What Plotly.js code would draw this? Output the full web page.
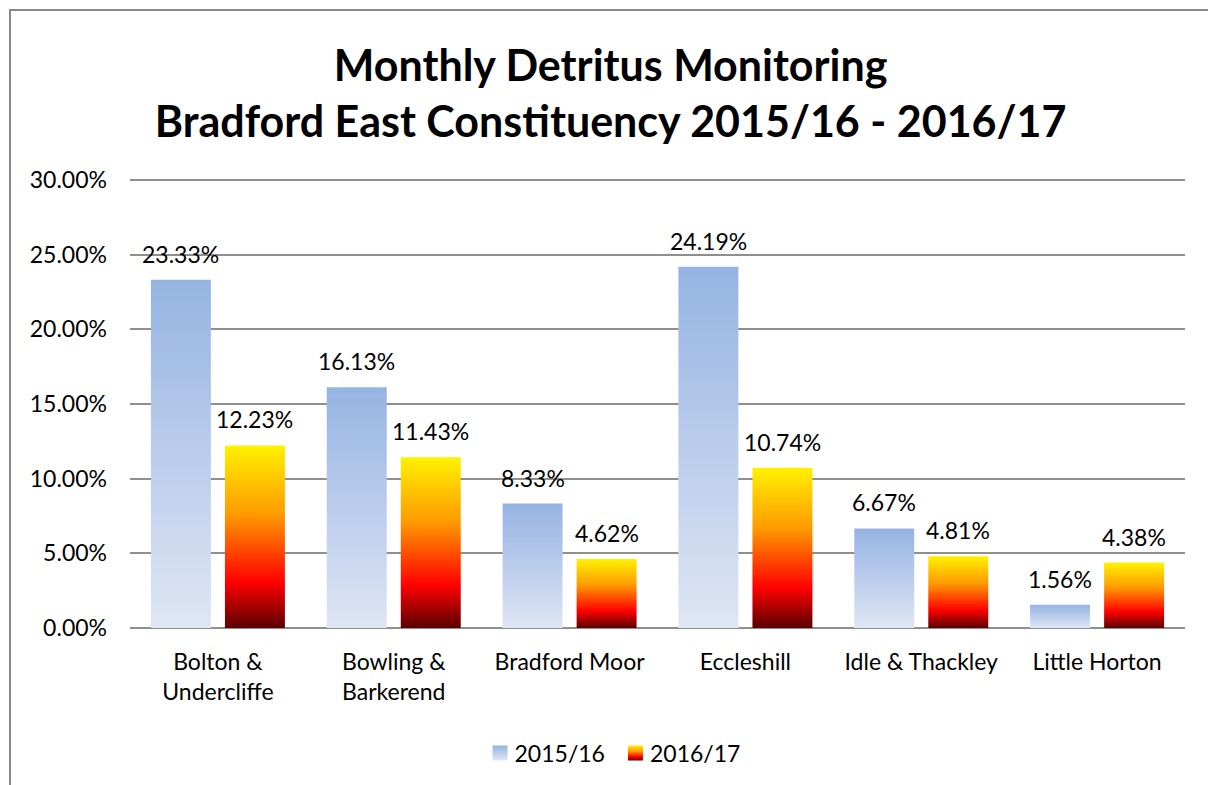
<!DOCTYPE html>
<html>
<head>
<meta charset="utf-8">
<script src="https://cdn.plot.ly/plotly-3.0.1.min.js"></script>
<style>
  html, body { margin: 0; padding: 0; background: #fff; }
  #chart { position: absolute; left: 0; top: 0; width: 1208px; height: 785px; }
  #frame { position: absolute; left: 9px; top: 9px; width: 1300px; height: 900px;
           border-left: 2px solid #8a8a8a; border-top: 2px solid #8a8a8a; pointer-events: none; }
</style>
</head>
<body>
<div id="chart"></div>
<div id="frame"></div>
<script>
const categories = ['Bolton & Undercliffe', 'Bowling & Barkerend', 'Bradford Moor', 'Eccleshill', 'Idle & Thackley', 'Little Horton'];
const tickLabels = ['Bolton &<br>Undercliffe', 'Bowling &<br>Barkerend', 'Bradford Moor', 'Eccleshill', 'Idle & Thackley', 'Little Horton'];
const series2015 = [23.33, 16.13, 8.33, 24.19, 6.67, 1.56];
const series2016 = [12.23, 11.43, 4.62, 10.74, 4.81, 4.38];
const seriesNames = ['2015/16', '2016/17'];
const yTicks = [0, 5, 10, 15, 20, 25, 30];

const FONT = 'Lato, "Open Sans", sans-serif';
const BARGAP = 0.158, GROUPGAP = 0.19;
const plotW = 1208 - 130 - 23;
const slot = (1 - BARGAP) * (plotW / categories.length) / 2;

const traces = [
  { type: 'bar', name: seriesNames[0], x: categories, y: series2015, marker: { color: '#b7c8ea' }, hoverinfo: 'skip' },
  { type: 'bar', name: seriesNames[1], x: categories, y: series2016, marker: { color: '#ff8c00' }, hoverinfo: 'skip' }
];

const annotations = [];
[series2015, series2016].forEach((vals, si) => {
  vals.forEach((v, i) => {
    annotations.push({
      x: categories[i], y: v, xref: 'x', yref: 'y',
      text: v.toFixed(2) + '%', showarrow: false,
      xshift: (si === 0 ? -1 : 1) * slot / 2, yshift: 10, yanchor: 'bottom',
      font: { family: FONT, size: 23, color: '#000' }
    });
  });
});

const layout = {
  width: 1208, height: 785,
  paper_bgcolor: '#fff', plot_bgcolor: '#fff',
  margin: { l: 130, r: 23, t: 176, b: 156 },
  title: {
    text: 'Monthly Detritus Monitoring<br>Bradford East Constituency 2015/16 - 2016/17',
    font: { family: FONT, size: 43, color: '#000', weight: 'bold' },
    x: 0.5055, xref: 'container', xanchor: 'center',
    y: 0.897, yref: 'container', yanchor: 'middle'
  },
  barmode: 'group', bargap: BARGAP, bargroupgap: GROUPGAP,
  xaxis: {
    type: 'category', tickmode: 'array', tickvals: categories, ticktext: tickLabels,
    showgrid: false, zeroline: false, showline: false, ticks: '',
    tickfont: { family: FONT, size: 23, color: '#000' }, ticklabelstandoff: 18,
    fixedrange: true
  },
  yaxis: {
    range: [0, 30.27], tickmode: 'array', tickvals: yTicks,
    ticktext: yTicks.map(t => t.toFixed(2) + '%'),
    showgrid: true, gridcolor: '#8f8f8f', gridwidth: 2,
    zeroline: true, zerolinecolor: '#8f8f8f', zerolinewidth: 2,
    showline: false, ticks: '',
    tickfont: { family: FONT, size: 23, color: '#000' }, ticklabelstandoff: 22,
    fixedrange: true
  },
  showlegend: true,
  legend: {
    orientation: 'h', x: 0.455, xanchor: 'center', y: -0.274, yanchor: 'middle',
    font: { family: FONT, size: 23, color: '#000' }, itemwidth: 30, traceorder: 'normal'
  },
  annotations: annotations
};

function addDefs(gd) {
  const svg = gd.querySelector('svg.main-svg');
  if (!svg || svg.querySelector('#gradBlue')) return;
  const ns = 'http://www.w3.org/2000/svg';
  const defs = document.createElementNS(ns, 'defs');
  function grad(id, stops) {
    const g = document.createElementNS(ns, 'linearGradient');
    g.setAttribute('id', id);
    g.setAttribute('x1', '0'); g.setAttribute('y1', '0');
    g.setAttribute('x2', '0'); g.setAttribute('y2', '1');
    stops.forEach(s => {
      const st = document.createElementNS(ns, 'stop');
      st.setAttribute('offset', s[0]);
      st.setAttribute('stop-color', s[1]);
      g.appendChild(st);
    });
    defs.appendChild(g);
  }
  grad('gradBlue', [['0', '#95b3e2'], ['1', '#dfe6f4']]);
  grad('gradFire', [['0', '#fff200'], ['0.38', '#ff9a00'], ['0.75', '#ff0000'], ['1', '#5a0000']]);
  svg.insertBefore(defs, svg.firstChild);
}

function applyGradients(gd) {
  addDefs(gd);
  const ids = ['url(#gradBlue)', 'url(#gradFire)'];
  gd.querySelectorAll('.barlayer .trace').forEach((t, i) => {
    t.querySelectorAll('path').forEach(p => { p.style.fill = ids[i % 2]; });
  });
  gd.querySelectorAll('.legend .traces').forEach((t, i) => {
    t.querySelectorAll('.legendpoints path').forEach(p => {
      p.setAttribute('d', 'M-2,-7.5h15v15h-15z');
      p.style.fill = ids[i % 2]; p.style.stroke = 'none';
    });
  });
}

const gd = document.getElementById('chart');
Plotly.newPlot(gd, traces, layout, { displayModeBar: false, staticPlot: true }).then(() => {
  applyGradients(gd);
  gd.on('plotly_afterplot', () => applyGradients(gd));
});
</script>
</body>
</html>
